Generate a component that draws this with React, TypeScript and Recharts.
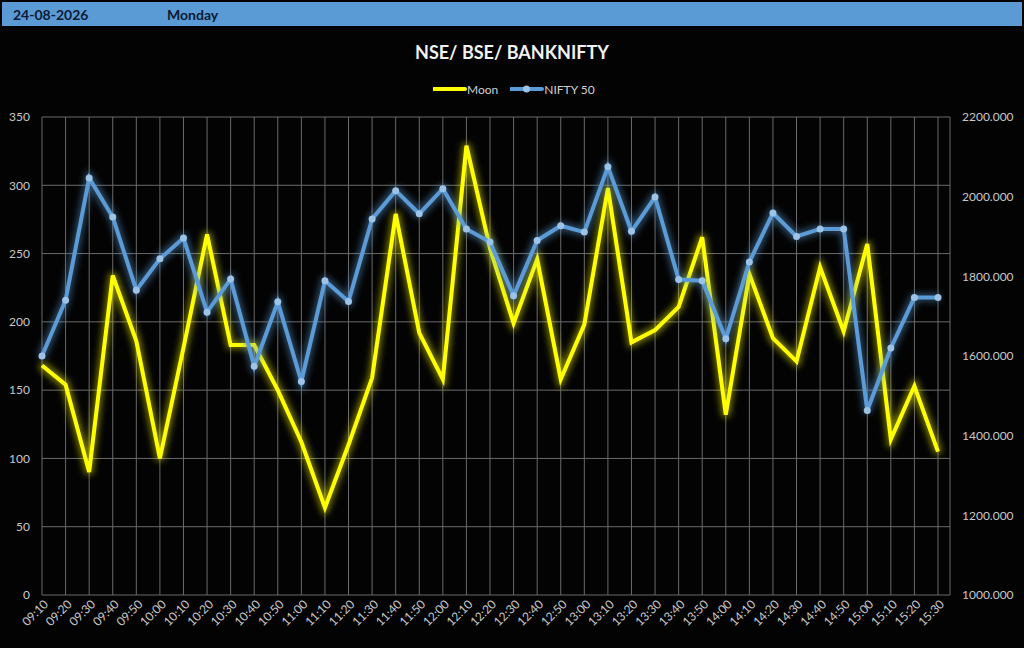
import React from "react";
import { LineChart, Line, XAxis, YAxis, CartesianGrid } from "recharts";

const times = [
  "09:10", "09:20", "09:30", "09:40", "09:50", "10:00", "10:10", "10:20", "10:30", "10:40",
  "10:50", "11:00", "11:10", "11:20", "11:30", "11:40", "11:50", "12:00", "12:10", "12:20",
  "12:30", "12:40", "12:50", "13:00", "13:10", "13:20", "13:30", "13:40", "13:50", "14:00",
  "14:10", "14:20", "14:30", "14:40", "14:50", "15:00", "15:10", "15:20", "15:30",
];

const moon = [
  168, 154, 90, 234, 186, 100, 181, 264, 183, 183,
  150, 112, 64, 110, 159, 279, 192, 158, 329, 254,
  199, 246, 158, 198, 298, 185, 194, 211, 262, 132,
  235, 188, 171, 240, 193, 257, 114, 153, 105,
];

const nifty50 = [
  1600, 1740, 2047, 1949, 1765, 1844, 1896, 1710, 1793, 1574,
  1736, 1536, 1789, 1737, 1944, 2015, 1957, 2020, 1919, 1886,
  1751, 1890, 1927, 1911, 2075, 1913, 1999, 1792, 1789, 1643,
  1836, 1959, 1900, 1919, 1919, 1463, 1620, 1747, 1747,
];

const leftTicks = [0, 50, 100, 150, 200, 250, 300, 350];
const rightTicks = [1000, 1200, 1400, 1600, 1800, 2000, 2200];

const dateLabel = "24-08-2026";
const dayLabel = "Monday";
const title = "NSE/ BSE/ BANKNIFTY";

const data = times.map((t, i) => ({ time: t, moon: moon[i], nifty: nifty50[i] }));

const FONT = "Lato, 'Open Sans', sans-serif";
const YELLOW = "#FFFF00";
const BLUE = "#5B9BD5";

function TimeTick(props: any) {
  const { x, y, payload } = props;
  return (
    <g transform={`translate(${x + 7},${y + 2})`}>
      <text
        x={0}
        y={0}
        textAnchor="end"
        transform="rotate(-45)"
        fill="#c8c8c8"
        fontSize={12}
        fontFamily={FONT}
      >
        {payload.value}
      </text>
    </g>
  );
}

export default function App() {
  return (
    <div
      style={{
        position: "absolute",
        top: 0,
        left: 0,
        width: 1024,
        height: 648,
        background: "#030303",
        overflow: "hidden",
        fontFamily: FONT,
      }}
    >
      <style>{`.glow-moon { filter: url(#glowYellow); } .glow-nifty { filter: url(#glowBlue); }`}</style>
      <svg width={0} height={0} style={{ position: "absolute" }}>
        <defs>
          <filter id="glowYellow" filterUnits="userSpaceOnUse" x={0} y={0} width={1024} height={648}>
            <feMorphology in="SourceAlpha" operator="dilate" radius={2} result="d" />
            <feGaussianBlur in="d" stdDeviation={3} result="b" />
            <feFlood floodColor="#FFFF00" floodOpacity={0.45} />
            <feComposite in2="b" operator="in" result="g" />
            <feMerge>
              <feMergeNode in="g" />
              <feMergeNode in="SourceGraphic" />
            </feMerge>
          </filter>
          <filter id="glowBlue" filterUnits="userSpaceOnUse" x={0} y={0} width={1024} height={648}>
            <feMorphology in="SourceAlpha" operator="dilate" radius={2} result="d" />
            <feGaussianBlur in="d" stdDeviation={3} result="b" />
            <feFlood floodColor="#5B9BD5" floodOpacity={0.45} />
            <feComposite in2="b" operator="in" result="g" />
            <feMerge>
              <feMergeNode in="g" />
              <feMergeNode in="SourceGraphic" />
            </feMerge>
          </filter>
        </defs>
      </svg>

      {/* header bar */}
      <div
        style={{
          position: "absolute",
          top: 2,
          left: 2,
          width: 1020,
          height: 24,
          background: "#5B9BD5",
          color: "#0d1a33",
          fontWeight: 700,
          fontSize: 14,
          lineHeight: "26px",
        }}
      >
        <span style={{ position: "absolute", left: 11 }}>{dateLabel}</span>
        <span style={{ position: "absolute", left: 165 }}>{dayLabel}</span>
      </div>

      <div
        style={{
          position: "absolute",
          top: 41,
          left: 0,
          width: 1024,
          textAlign: "center",
          color: "#f2f2f2",
          fontSize: 18,
          fontWeight: 700,
        }}
      >
        {title}
      </div>

      {/* legend */}
      <div
        style={{
          position: "absolute",
          top: 81,
          left: 433,
          display: "flex",
          alignItems: "center",
          color: "#d0d0d0",
          fontSize: 12,
        }}
      >
        <svg width={34} height={16}>
          <line x1={1} y1={8} x2={32} y2={8} stroke={YELLOW} strokeWidth={4} strokeLinecap="round" />
        </svg>
        <span style={{ marginRight: 12 }}>Moon</span>
        <svg width={34} height={16}>
          <line x1={1} y1={8} x2={32} y2={8} stroke={BLUE} strokeWidth={4} strokeLinecap="round" />
          <circle cx={16.5} cy={8} r={3.5} fill="#9DC3E6" />
        </svg>
        <span>NIFTY 50</span>
      </div>

      <div style={{ position: "absolute", top: 0, left: 0 }}>
        <LineChart
          width={1024}
          height={648}
          data={data}
          margin={{ top: 117, right: 0, bottom: 0, left: 0 }}
        >
          <CartesianGrid yAxisId="left" stroke="#6a6a6a" strokeWidth={1} />
          <XAxis
            dataKey="time"
            scale="point"
            padding={{ left: 0, right: 12 }}
            interval={0}
            height={53}
            axisLine={false}
            tickLine={false}
            tick={<TimeTick />}
          />
          <YAxis
            yAxisId="left"
            width={42}
            domain={[0, 350]}
            ticks={leftTicks}
            axisLine={false}
            tickLine={false}
            tickMargin={6}
            tick={{ fill: "#c8c8c8", fontSize: 12, fontFamily: FONT }}
          />
          <YAxis
            yAxisId="right"
            orientation="right"
            width={74}
            domain={[1000, 2200]}
            ticks={rightTicks}
            axisLine={false}
            tickLine={false}
            tickMargin={6}
            tickFormatter={(v: number) => v.toFixed(3)}
            tick={{ fill: "#c8c8c8", fontSize: 12, fontFamily: FONT, textAnchor: "start" }}
          />
          <Line
            yAxisId="left"
            dataKey="moon"
            className="glow-moon"
            stroke={YELLOW}
            strokeWidth={4}
            dot={false}
            type="linear"
            isAnimationActive={false}
          />
          <Line
            yAxisId="right"
            dataKey="nifty"
            className="glow-nifty"
            stroke={BLUE}
            strokeWidth={4}
            dot={{ r: 3.5, fill: "#9DC3E6", stroke: "none" }}
            type="linear"
            isAnimationActive={false}
          />
        </LineChart>
      </div>
    </div>
  );
}
